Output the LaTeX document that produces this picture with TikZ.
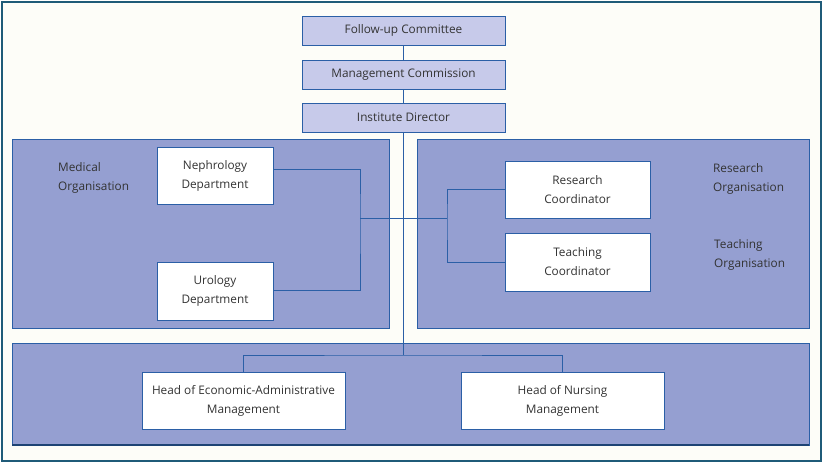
\documentclass[tikz,border=0pt]{standalone}
\usepackage{fontspec}
\setmainfont{Open Sans}
\definecolor{frame}{HTML}{1F5B78}
\definecolor{bgc}{HTML}{FDFDF8}
\definecolor{panel}{HTML}{959FD1}
\definecolor{topfill}{HTML}{C7CAEA}
\definecolor{lineblue}{HTML}{2B5FA6}
\definecolor{txt}{HTML}{333333}
\begin{document}
\begin{tikzpicture}[x=1pt,y=-1pt,
  every node/.style={font=\fontsize{11.8}{19}\selectfont, text=txt, inner sep=2pt},
  topbox/.style={draw=lineblue, line width=0.8pt, fill=topfill},
  whitebox/.style={draw=lineblue, line width=0.8pt, fill=white},
  panelbox/.style={draw=lineblue, line width=0.6pt, fill=panel},
  conn/.style={draw=lineblue, line width=1pt}]
\useasboundingbox (0,0) rectangle (823,463);
\draw[frame, line width=2pt, fill=bgc] (2,2) rectangle (821,461);
% panels
\path[panelbox] (12,139) rectangle (389,328);
\path[panelbox] (417,139) rectangle (809,328);
\path[panelbox] (12,343) rectangle (809,445);
\draw[lineblue!70!black, line width=1.5pt] (12,445) -- (809,445);
% top boxes
\node[topbox, minimum width=203pt, minimum height=29pt] (fc) at (403.5,30.5) {Follow-up Committee};
\node[topbox, minimum width=203pt, minimum height=29pt] (mc) at (403.5,74.5) {Management Commission};
\node[topbox, minimum width=203pt, minimum height=29pt] (id) at (403.5,117.5) {Institute Director};
% white boxes
\node[whitebox, minimum width=116pt, minimum height=57pt, align=center] (neph) at (215,175.5) {Nephrology\\ Department};
\node[whitebox, minimum width=116pt, minimum height=58pt, align=center] (uro) at (215,291) {Urology\\Department};
\node[whitebox, minimum width=145pt, minimum height=57pt, align=center] (res) at (577.5,189.5) {Research\\Coordinator};
\node[whitebox, minimum width=145pt, minimum height=58pt, align=center] (tea) at (577.5,262) {Teaching\\Coordinator};
\node[whitebox, minimum width=203pt, minimum height=57pt, align=center] (hea) at (243.5,400.5) {Head of Economic-Administrative\\Management};
\node[whitebox, minimum width=203pt, minimum height=57pt, align=center] (hnm) at (562.5,400.5) {Head of Nursing\\Management};
% labels
\node[anchor=west, align=left] (medl) at (56,178) {Medical\\Organisation};
\node[anchor=west, align=left] (resl) at (711,178.5) {Research\\Organisation};
\node[anchor=west, align=left] (teal) at (712,254.5) {Teaching\\Organisation};
% connectors
\coordinate (lb) at (360,218);
\coordinate (rb) at (447,218);
\coordinate (bj) at (403.5,355);
\draw[conn] (fc) -- (mc);
\draw[conn] (mc) -- (id);
\draw[conn, line width=0.8pt] (id) -- (bj);
\draw[conn] (neph.east |- 0,169) -| (lb) |- (uro.east |- 0,290);
\draw[conn] (lb) -- (rb);
\draw[conn] (res.west) -| (rb) |- (tea.west);
\draw[conn] (hea.north) |- (bj) -| (hnm.north);
\end{tikzpicture}
\end{document}
